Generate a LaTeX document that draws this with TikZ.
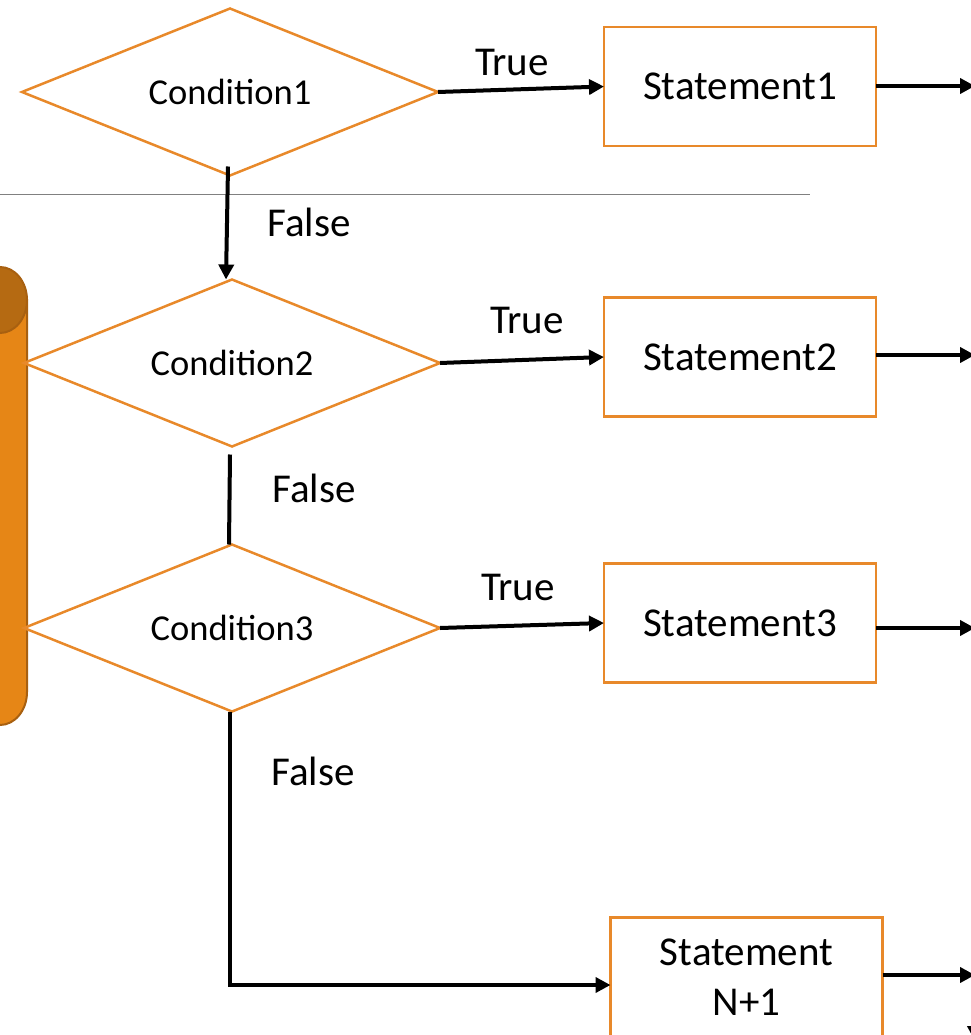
\documentclass[tikz,border=0pt]{standalone}
\usepackage{fontspec}
\setmainfont{Carlito}
\usetikzlibrary{arrows.meta,shapes.geometric,positioning}
\definecolor{flowline}{RGB}{232,137,42}
\definecolor{pipebody}{RGB}{230,134,22}
\definecolor{pipecap}{RGB}{181,106,18}
\definecolor{pipeedge}{RGB}{168,96,16}
\tikzset{
    cond/.style={diamond, draw=flowline, line width=2.5pt, aspect=2.5,
        minimum width=416pt, minimum height=167pt, inner sep=0pt, outer sep=0pt,
        font=\fontsize{36.5}{44}\selectfont},
    stmt/.style={rectangle, draw=flowline, line width=2.5pt,
        minimum width=272pt, minimum height=119pt, inner sep=0pt, outer sep=0pt,
        align=center, font=\fontsize{41}{50}\selectfont},
    flow/.style={line width=4pt, -{Triangle[length=15pt,width=15pt]}},
    lbl/.style={font=\fontsize{41}{50}\selectfont},
}
\begin{document}
\begin{tikzpicture}[x=1pt,y=1pt,yscale=-1]
    \useasboundingbox (0,0) rectangle (970,1035);

    % side pipe
    \filldraw[fill=pipebody, draw=pipeedge, line width=2pt]
        (-27,300) -- (-27,692) arc[start angle=180, end angle=0, x radius=27, y radius=33] -- (27,300) -- cycle;
    \filldraw[fill=pipecap, draw=pipeedge, line width=2pt] (0,300) ellipse [x radius=27, y radius=33];

    % separator
    \draw[gray, line width=1pt] (0,194) -- (810,194);

    % Conditions
    \node[cond] (c1) at (230,92) {Condition1};
    \node[cond] (c2) at (232,363) {Condition2};
    \node[cond] (c3) at (232,628) {Condition3};

    % Statements
    \node[stmt] (s1) at (740,86.5) {Statement1};
    \node[stmt] (s2) at (740,357) {Statement2};
    \node[stmt] (s3) at (740,623) {Statement3};
    \node[stmt] (sn) at (746.5,977) {Statement\\N+1};

    % exits on the right
    \coordinate (o1) at (975,86);
    \coordinate (o2) at (975,355);
    \coordinate (o3) at (975,628);
    \coordinate (on) at (975,975);
    \coordinate (dn) at (975,1041);

    % Connection
    \draw[flow] (c1.east) -- (s1.west);
    \draw[flow] (c2.east) -- (s2.west);
    \draw[flow] (c3.east) -- (s3.west);
    \draw[flow] ([shift={(-2,-9)}]c1.south) -- ([xshift=-6]c2.north);
    \draw[line width=4pt] ([shift={(-2,8)}]c2.south) -- ([xshift=-3]c3.north);
    \draw[flow] ([xshift=-2]c3.south) |- ([yshift=8]sn.west);

    \draw[flow] (s1.east |- o1) -- (o1);
    \draw[flow] (s2.east |- o2) -- (o2);
    \draw[flow] (s3.east |- o3) -- (o3);
    \draw[flow] (sn.east |- on) -- (on);
    \draw[flow] (975,995) -- (dn);

    % Labels
    \node[lbl] (t1) at (512,62) {True};
    \node[lbl] (t2) at (527,320) {True};
    \node[lbl] (t3) at (518,587) {True};
    \node[lbl] (f1) at (309,222) {False};
    \node[lbl] (f2) at (314,488) {False};
    \node[lbl] (f3) at (313,771) {False};
\end{tikzpicture}
\end{document}
